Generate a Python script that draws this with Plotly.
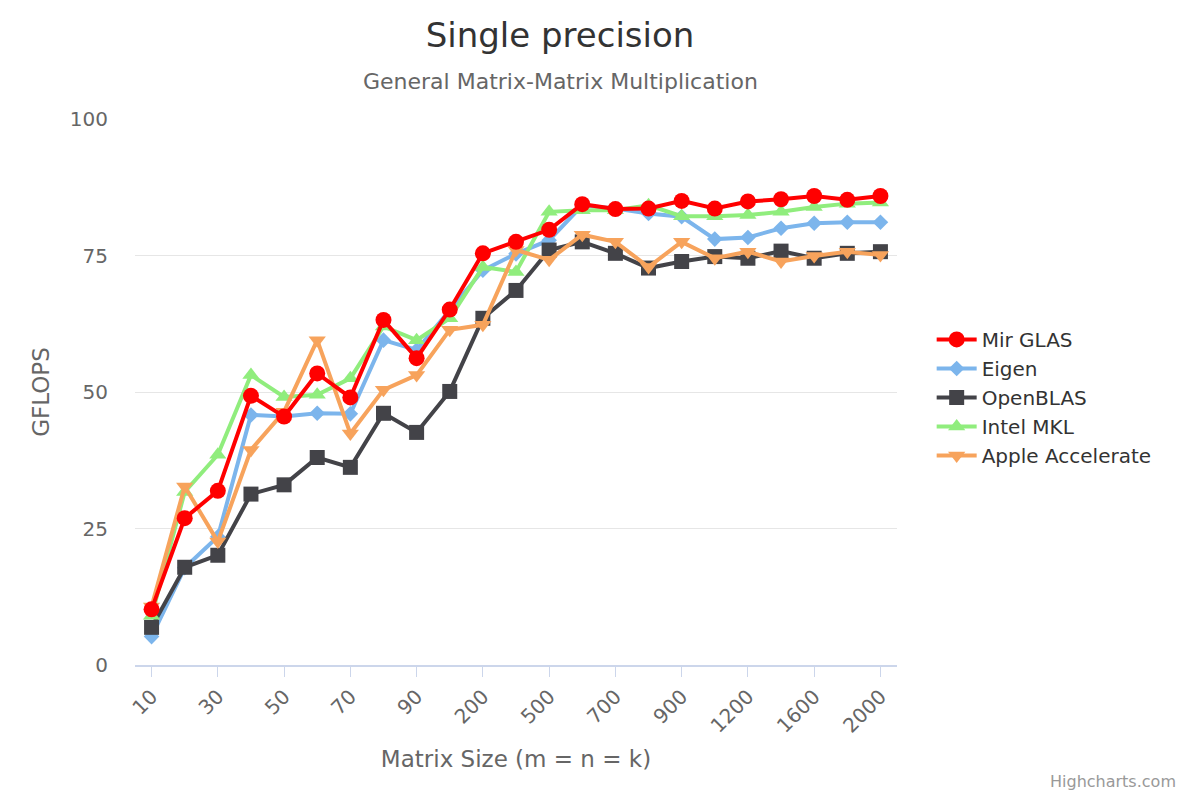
import plotly.graph_objects as go

sizes = ["10", "20", "30", "40", "50", "60", "70", "80", "90", "100", "200", "300",
         "500", "600", "700", "800", "900", "1000", "1200", "1400", "1600", "1800", "2000"]
tick_labels = sizes[::2]

mir_glas = [10.2, 26.9, 31.9, 49.3, 45.5, 53.4, 49.0, 63.2, 56.2, 65.1, 75.4, 77.5,
            79.7, 84.4, 83.5, 83.6, 85.0, 83.6, 84.9, 85.3, 85.9, 85.2, 85.9]
eigen = [5.2, 17.8, 23.5, 45.8, 45.5, 46.1, 46.0, 59.5, 57.7, 65.0, 72.3, 75.3,
         77.8, 84.2, 83.6, 82.7, 82.1, 78.0, 78.3, 80.0, 80.9, 81.1, 81.1]
openblas = [6.9, 17.9, 20.1, 31.3, 33.0, 38.0, 36.2, 46.1, 42.6, 50.1, 63.5, 68.6,
            76.0, 77.5, 75.4, 72.7, 73.9, 74.8, 74.5, 75.8, 74.5, 75.4, 75.7]
intel_mkl = [9.0, 31.7, 38.5, 53.1, 49.1, 49.5, 52.5, 62.0, 59.5, 63.5, 72.9, 72.0,
             83.0, 83.3, 83.3, 84.2, 82.2, 82.2, 82.4, 83.0, 83.9, 84.5, 84.7]
apple_accelerate = [10.7, 32.7, 22.6, 39.4, 46.4, 59.5, 42.4, 50.4, 53.1, 61.4, 62.3, 76.0,
                    74.2, 78.8, 77.5, 72.9, 77.5, 74.5, 75.7, 73.9, 74.9, 75.7, 75.1]

font = "DejaVu Sans"

# the page body has an 8px margin, so the figure is 16px smaller than the window
W, H = 1184, 784

series = [
    ("Eigen", eigen, "#7cb5ec", "diamond", 12, 2),
    ("OpenBLAS", openblas, "#434348", "square", 15, 3),
    ("Intel MKL", intel_mkl, "#90ed7d", "triangle-up", 15, 4),
    ("Apple Accelerate", apple_accelerate, "#f7a35c", "triangle-down", 15, 5),
    ("Mir GLAS", mir_glas, "#ff0000", "circle", 16, 1),
]

fig = go.Figure()
for name, vals, color, symbol, size, rank in series:
    fig.add_trace(go.Scatter(
        x=sizes, y=vals, name=name, mode="lines+markers",
        line=dict(color=color, width=4),
        marker=dict(color=color, symbol=symbol, size=size),
        legendrank=rank,
    ))

fig.update_layout(
    width=W, height=H,
    margin=dict(l=127, r=W - 889, t=111, b=H - 657),
    paper_bgcolor="white", plot_bgcolor="white",
    font=dict(family=font, color="#666666"),
    title=dict(text="Single precision", xref="container", x=552 / W, yref="container",
               y=1 - 27 / H, yanchor="middle", xanchor="center",
               font=dict(size=34, color="#333333", family=font)),
    legend=dict(x=1.0455, y=0.49, xanchor="left", yanchor="middle",
                font=dict(size=20, color="#333333", family=font),
                tracegroupgap=0, itemwidth=40, bgcolor="rgba(0,0,0,0)"),
    annotations=[
        dict(text="General Matrix-Matrix Multiplication", xref="paper", yref="paper",
             x=(552 - 127) / 762, y=1.0, yshift=38, xanchor="center", yanchor="middle",
             showarrow=False, font=dict(size=22, color="#666666", family=font)),
        dict(text="Highcharts.com", xref="paper", yref="paper",
             x=1.0, xshift=281, y=0, yshift=-116, xanchor="right", yanchor="middle",
             showarrow=False, font=dict(size=16, color="#999999", family=font)),
    ],
)

fig.update_xaxes(
    type="category", range=[-0.5, len(sizes) - 0.5],
    tickmode="array", tickvals=tick_labels, ticktext=tick_labels,
    tickangle=-45, tickfont=dict(size=20, color="#666666"),
    ticks="outside", ticklen=10, tickcolor="#ccd6eb", tickwidth=1,
    showline=True, linecolor="#ccd6eb", linewidth=2,
    showgrid=False, zeroline=False,
    title=dict(text="Matrix Size (m = n = k)", font=dict(size=23, color="#666666"), standoff=14),
)
fig.update_yaxes(
    range=[0, 100], tickvals=[0, 25, 50, 75, 100],
    tickfont=dict(size=20, color="#666666"),
    showgrid=True, gridcolor="#e6e6e6", gridwidth=1,
    zeroline=False, showline=False, ticks="", ticklabelstandoff=26,
    title=dict(text="GFLOPS", font=dict(size=23, color="#666666"), standoff=13),
)

fig.write_html("out.html")
